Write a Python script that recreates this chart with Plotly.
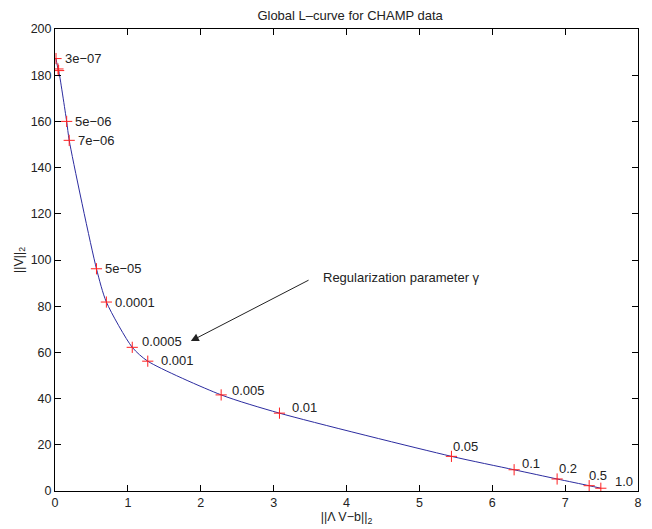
import plotly.graph_objects as go

# L-curve samples: residual norm vs. solution norm for each regularization parameter
residual_norm = [0.014, 0.041, 0.050, 0.16, 0.195, 0.569, 0.705, 1.06, 1.273,
                 2.28, 3.08, 5.44, 6.30, 6.89, 7.33, 7.49]
solution_norm = [187.2, 182.7, 182.0, 160.0, 151.8, 96.2, 81.8, 62.2, 56.2,
                 41.6, 33.7, 15.0, 9.2, 5.2, 2.3, 1.2]
gamma_labels = ["3e\u221207", "", "", "5e\u221206", "7e\u221206", "5e\u221205", "0.0001",
                "0.0005", "0.001", "0.005", "0.01", "0.05", "0.1", "0.2", "0.5", "1.0"]

# pixel offsets of each parameter label from its marker (dx, dy)
label_offsets = [(7, 0), (0, 0), (0, 0), (6, 0), (7, 0), (7, 0), (7, 0),
                 (8, 6), (11, 1), (9, 4), (11, 6), (0, 10), (6, 6), (0, 10), (-2, 10), (12, 7)]

x_ticks = [0, 1, 2, 3, 4, 5, 6, 7, 8]
y_ticks = [0, 20, 40, 60, 80, 100, 120, 140, 160, 180, 200]

FONT = "Liberation Sans, Arial, Helvetica, sans-serif"
TEXT = "#222222"

fig = go.Figure()
fig.add_trace(go.Scatter(
    x=residual_norm, y=solution_norm, mode="lines",
    line=dict(color="#2c2ca0", width=1, shape="spline", smoothing=0.7),
    hoverinfo="skip", showlegend=False,
))
fig.add_trace(go.Scatter(
    x=residual_norm, y=solution_norm, mode="markers",
    marker=dict(symbol="cross-thin", size=8, line=dict(color="#ff2020", width=1)),
    showlegend=False,
))

for xv, yv, lab, (dx, dy) in zip(residual_norm, solution_norm, gamma_labels, label_offsets):
    if not lab:
        continue
    fig.add_annotation(x=xv, y=yv, text=lab, showarrow=False, xanchor="left",
                       yanchor="middle", xshift=dx, yshift=dy,
                       font=dict(family=FONT, size=13, color=TEXT))

# arrow pointing at the corner of the curve
fig.add_annotation(x=1.864, y=64.9, ax=3.50, ay=91.6, xref="x", yref="y",
                   axref="x", ayref="y", text="", showarrow=True,
                   arrowhead=2, arrowsize=1.6, arrowwidth=1, arrowcolor=TEXT)
fig.add_annotation(x=3.65, y=92.3, text="Regularization parameter \u03b3", showarrow=False,
                   xanchor="left", yanchor="middle",
                   font=dict(family=FONT, size=13, color=TEXT))

axis_common = dict(
    showline=True, linecolor="black", linewidth=1, mirror="allticks",
    ticks="inside", ticklen=6, tickwidth=1, tickcolor="black",
    showgrid=False, zeroline=False,
    tickfont=dict(family=FONT, size=12.5, color=TEXT),
)

fig.update_layout(
    width=652, height=529,
    margin=dict(l=55, r=10, t=29, b=37),
    paper_bgcolor="white", plot_bgcolor="white",
    title=dict(text="Global L\u2013curve for CHAMP data", x=0.537, xanchor="center",
               y=1 - 15 / 529, yanchor="middle",
               font=dict(family=FONT, size=13, color=TEXT)),
    xaxis=dict(range=[0, 8], tickvals=x_ticks, ticktext=[str(v) for v in x_ticks],
               title=dict(text="||\u039b V\u2212b||<sub>2</sub>", standoff=0,
                          font=dict(family=FONT, size=12.5, color=TEXT)),
               **axis_common),
    yaxis=dict(range=[0, 200], tickvals=y_ticks, ticktext=[str(v) for v in y_ticks],
               title=dict(text="||V||<sub>2</sub>", standoff=4,
                          font=dict(family=FONT, size=12.5, color=TEXT)),
               **axis_common),
)

fig.write_html("out.html")
